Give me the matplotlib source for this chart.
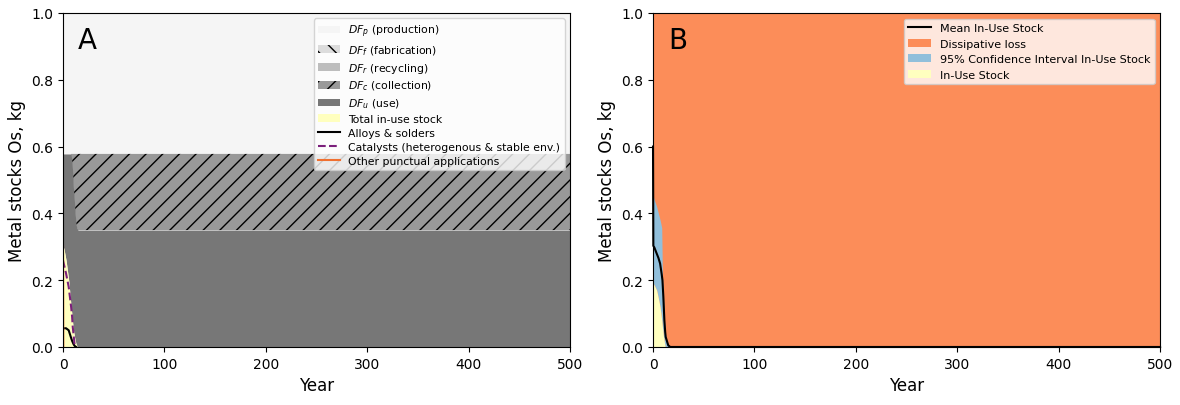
import numpy as np
import matplotlib
matplotlib.use("Agg")
from matplotlib import pyplot as plt

# Panel A - dissipative flows and in-use stock (kg)
years_a = [0, 1, 3, 5.6, 8, 9, 9.6, 10.2, 11.2, 12, 12.8, 13.5, 14.8, 16, 20, 500]
in_use = [0.303, 0.293, 0.26, 0.20, 0.12, 0.09, 0.07, 0.052, 0.033, 0.02, 0.01, 0.005, 0.0, 0.0, 0.0, 0.0]
use_top = [0.578, 0.578, 0.578, 0.578, 0.578, 0.55, 0.52, 0.48, 0.44, 0.40, 0.37, 0.358, 0.35, 0.35, 0.35, 0.35]
total_top = 0.578

# individual applications (lines)
years_alloys = [0, 0.3, 3, 5.6, 8, 9, 9.6, 10.3, 11.3, 12, 13]
alloys = [0.056, 0.056, 0.056, 0.05, 0.027, 0.018, 0.014, 0.009, 0.004, 0.002, 0.0]
years_cat = [0, 0.3, 3, 5.6, 8, 9, 9.6, 10.3, 11.3, 12]
catalysts = [0.26, 0.255, 0.22, 0.18, 0.12, 0.09, 0.06, 0.04, 0.01, 0.0]
years_other = [0, 0.3]
other = [0.303, 0.0]

# Panel B - Monte Carlo in-use stock
years_b = [0, 0.3, 1.3, 3.6, 5.3, 7, 8.6, 9.3, 10.2, 11.2, 12, 12.5, 15, 17, 20, 500]
mean_stock = [0.60, 0.303, 0.298, 0.28, 0.267, 0.25, 0.217, 0.20, 0.15, 0.08, 0.045, 0.03, 0.005, 0.0, 0.0, 0.0]
ci_low = [0.19, 0.19, 0.185, 0.17, 0.146, 0.12, 0.08, 0.06, 0.035, 0.015, 0.0, 0.0, 0.0, 0.0, 0.0, 0.0]
ci_high = [0.45, 0.45, 0.44, 0.42, 0.40, 0.38, 0.357, 0.21, 0.155, 0.085, 0.05, 0.032, 0.005, 0.0, 0.0, 0.0]

fig = plt.figure(figsize=(11.8, 4.06), dpi=100)
ax1 = fig.add_axes([0.0534, 0.1429, 0.4297, 0.8227])
ax2 = fig.add_axes([0.5534, 0.1429, 0.4297, 0.8227])

ya = np.array(years_a)
iu = np.array(in_use)
ut = np.array(use_top)

ax1.fill_between(ya, total_top, 1.0, color='#f5f5f5', lw=0, label='$DF_p$ (production)')
ax1.fill_between(ya, total_top, total_top, facecolor='#dcdcdc', edgecolor='black', hatch='\\\\', lw=0, label='$DF_f$ (fabrication)')
ax1.fill_between(ya, total_top, total_top, color='#bdbdbd', lw=0, label='$DF_r$ (recycling)')
ax1.fill_between(ya, ut, total_top, facecolor='#999999', edgecolor='black', hatch='//', lw=0, label='$DF_c$ (collection)')
ax1.fill_between(ya, iu, ut, color='#777777', lw=0, label='$DF_u$ (use)')
ax1.fill_between(ya, 0, iu, color='#ffffbf', lw=0, label='Total in-use stock')
ax1.plot(years_alloys, alloys, color='black', lw=1.5, label='Alloys & solders')
ax1.plot(years_cat, catalysts, color='#7b1f7b', lw=1.5, ls='--', label='Catalysts (heterogenous & stable env.)')
ax1.plot(years_other, other, color='#f07030', lw=1.5, label='Other punctual applications')

ax1.set_xlim(0, 500)
ax1.set_ylim(0, 1)
ax1.set_xlabel('Year', fontsize=12)
ax1.set_ylabel('Metal stocks Os, kg', fontsize=12)
ax1.text(0.03, 0.96, 'A', transform=ax1.transAxes, fontsize=20, va='top')
ax1.legend(loc='upper right', fontsize=7.8, labelspacing=0.37)

yb = np.array(years_b)
ax2.fill_between(yb, 0, 1.0, color='#fc8d59', lw=0, label='Dissipative loss')
ax2.fill_between(yb, ci_low, ci_high, color='#91bfdb', lw=0, label='95% Confidence Interval In-Use Stock')
ax2.fill_between(yb, 0, ci_low, color='#ffffbf', lw=0, label='In-Use Stock')
ax2.plot(yb, mean_stock, color='black', lw=1.5, clip_on=False, label='Mean In-Use Stock')

ax2.set_xlim(0, 500)
ax2.set_ylim(0, 1)
ax2.set_xlabel('Year', fontsize=12)
ax2.set_ylabel('Metal stocks Os, kg', fontsize=12)
ax2.text(0.03, 0.96, 'B', transform=ax2.transAxes, fontsize=20, va='top')
h, l = ax2.get_legend_handles_labels()
order = [3, 0, 1, 2]
ax2.legend([h[i] for i in order], [l[i] for i in order], loc='upper right', fontsize=8)

fig.savefig('out.png', dpi=100)
